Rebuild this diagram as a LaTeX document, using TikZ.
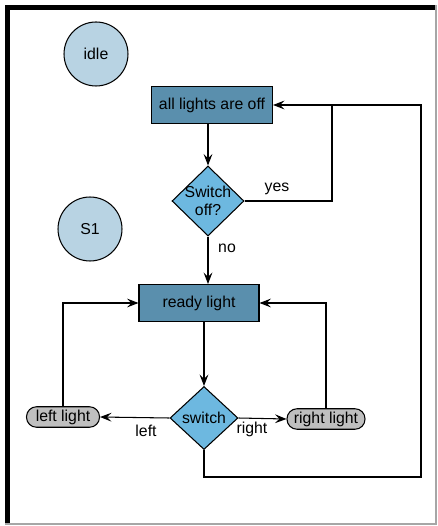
\documentclass[tikz,border=0pt]{standalone}
\usepackage{fontspec}
\setmainfont{Liberation Sans}
\usetikzlibrary{shapes, arrows, arrows.meta, positioning, shapes.geometric, calc}

\definecolor{statefill}{HTML}{B8D3E3}
\definecolor{boxfill}{HTML}{5A8FAD}
\definecolor{decfill}{HTML}{6DB8E0}
\definecolor{pillfill}{HTML}{BFBFBF}

\begin{document}
\begin{tikzpicture}[x=0.02cm, y=-0.02cm, line width=0.6pt, every node/.style={font=\fontsize{9}{10.5}\selectfont}]
    \tikzstyle{state} = [draw, circle, fill=statefill, minimum size=1.28cm, inner sep=0pt]
    \tikzstyle{box} = [draw, rectangle, fill=boxfill, minimum width=2.42cm, minimum height=0.74cm, align=center]
    \tikzstyle{decision} = [draw, diamond, fill=decfill, inner sep=-4pt, align=center]
    \tikzstyle{pill} = [draw, rectangle, fill=pillfill, rounded corners=0.2cm, minimum height=0.41cm, inner xsep=2pt, inner ysep=0pt]
    \tikzstyle{flow} = [-{Stealth[length=6.5pt, width=5pt, inset=2.5pt]}]

    % frame
    \useasboundingbox (0,0) rectangle (437,526);
    \fill[black] (5,5) rectangle (10,524);
    \fill[black] (5,5) rectangle (436,10);
    \draw[gray!70, line width=0.8pt] (436,5) -- (436,524) -- (5,524);

    \node[state] (idle) at (96, 54) {idle};
    \node[state] (sone) at (90, 229) {S1};

    \node[box] (off) at (212, 105) {all lights are off};
    \node[decision, minimum width=1.44cm, minimum height=1.4cm] (swoff) at (208, 201) {Switch\\off?};
    \node[box, minimum width=2.4cm] (ready) at (199, 303) {ready light};
    \node[decision, minimum width=1.36cm, minimum height=1.26cm] (sw) at (204, 418) {switch};
    \node[pill, minimum width=1.46cm] (leftl) at (63, 417) {left light};
    \node[pill, minimum width=1.56cm] (rightl) at (326, 419) {right light};

    \coordinate (yesjoin) at (332, 105);
    \coordinate (botright) at (421, 477);

    \draw[flow] (swoff.north |- off.south) -- (swoff.north);
    \draw (swoff.east) -| (yesjoin);
    \node (yes) at (277, 189) {yes};
    \draw[flow] (swoff.south) -- (swoff.south |- ready.north);
    \node (no) at (227, 248) {no};
    \draw[flow] (sw.north |- ready.south) -- (sw.north);
    \draw[flow] (sw.west) -- (leftl.east);
    \node (lefttxt) at (146, 431) {left};
    \draw[flow] (sw.east) -- (rightl.west);
    \node (righttxt) at (252, 429) {right};
    \draw[flow] (leftl.north) |- (ready.west);
    \draw[flow] (rightl.north) |- (ready.east);
    \draw[flow] (sw.south) |- (botright) |- (off.east);
\end{tikzpicture}
\end{document}
